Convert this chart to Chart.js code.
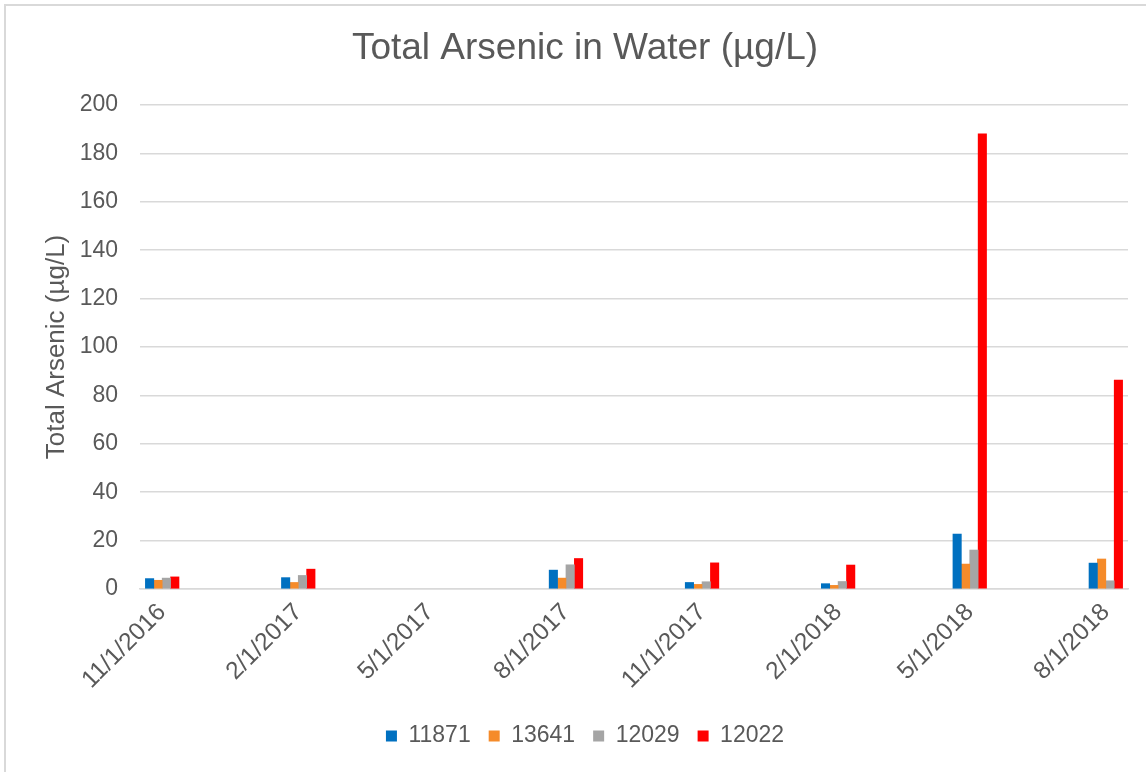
<!DOCTYPE html>
<html>
<head>
<meta charset="utf-8">
<script src="https://cdn.jsdelivr.net/npm/chart.js@4.4.1/dist/chart.umd.min.js"></script>
<style>
  body { margin: 0; background: #fff; }
  #wrap { position: relative; width: 1146px; height: 772px; overflow: hidden; }
  #frame {
    position: absolute; left: 4px; top: 4px; right: -10px; bottom: -10px;
    border-left: 2px solid #d9d9d9; border-top: 2px solid #d9d9d9;
    pointer-events: none;
  }
</style>
</head>
<body>
<div id="wrap">
  <canvas id="arsenicChart" width="1146" height="772"></canvas>
  <div id="frame"></div>
</div>
<script>
// sample dates (x axis) and total arsenic per site, ug/L
const sampleDates = ["11/1/2016", "2/1/2017", "5/1/2017", "8/1/2017", "11/1/2017", "2/1/2018", "5/1/2018", "8/1/2018"];
const site11871 = [4.3, 4.7, null, 7.8, 2.7, 2.2, 22.7, 10.7];
const site13641 = [3.6, 2.7, null, 4.5, 1.9, 1.5, 10.3, 12.4];
const site12029 = [4.5, 5.6, null, 10.0, 3.0, 3.1, 16.1, 3.4];
const site12022 = [5.0, 8.2, null, 12.6, 10.8, 9.9, 188.1, 86.3];
const yTicks = [0, 20, 40, 60, 80, 100, 120, 140, 160, 180, 200];

const FONT = "'Liberation Sans', Arial, sans-serif";
const TEXT = "#595959";
const GRID = "#d9d9d9";

// date axis like excel: days since epoch
const toDay = (s) => {
  const [m, d, y] = s.split("/").map(Number);
  return Date.UTC(y, m - 1, d) / 86400000;
};
const dayValues = sampleDates.map(toDay);

const makeSeries = (label, values, color) => ({
  label: label,
  data: values.map((v, i) => ({ x: dayValues[i], y: v })),
  backgroundColor: color,
  borderWidth: 0,
  barThickness: 8.4,
});

const ctx = document.getElementById("arsenicChart").getContext("2d");
new Chart(ctx, {
  type: "bar",
  data: {
    datasets: [
      makeSeries("11871", site11871, "#0070c0"),
      makeSeries("13641", site13641, "#f58b2a"),
      makeSeries("12029", site12029, "#a5a5a5"),
      makeSeries("12022", site12022, "#ff0000"),
    ],
  },
  options: {
    responsive: false,
    animation: false,
    devicePixelRatio: 1,
    layout: { padding: { left: 42, right: 18, top: 0, bottom: 14.5 } },
    plugins: {
      title: {
        display: true,
        text: "Total Arsenic in Water (µg/L)",
        color: TEXT,
        font: { family: FONT, size: 37, weight: "normal" },
        padding: { top: 27, bottom: 33.6 },
      },
      legend: {
        position: "bottom",
        labels: {
          color: TEXT,
          font: { family: FONT, size: 23 },
          boxWidth: 11,
          boxHeight: 11,
          padding: 18,
        },
      },
      tooltip: { enabled: false },
    },
    scales: {
      x: {
        type: "linear",
        offset: false,
        min: dayValues[0] - 15,
        max: dayValues[dayValues.length - 1] + 15,
        afterBuildTicks: (axis) => {
          axis.ticks = dayValues.map((v) => ({ value: v }));
        },
        afterFit: (axis) => {
          axis.height = 117.5;
        },
        ticks: {
          autoSkip: false,
          minRotation: 45,
          maxRotation: 45,
          padding: 9,
          color: TEXT,
          font: { family: FONT, size: 24.5 },
          callback: (value) => sampleDates[dayValues.indexOf(value)],
        },
        grid: { display: false, drawTicks: false },
        border: { display: true, color: GRID, width: 1.5 },
      },
      y: {
        min: 0,
        max: 200,
        afterBuildTicks: (axis) => {
          axis.ticks = yTicks.map((v) => ({ value: v }));
        },
        afterFit: (axis) => {
          axis.width = 98;
        },
        ticks: {
          padding: 22,
          color: TEXT,
          font: { family: FONT, size: 23 },
        },
        grid: { color: GRID, lineWidth: 1.5, drawTicks: false },
        border: { display: false },
        title: {
          display: true,
          text: "Total Arsenic (µg/L)",
          color: TEXT,
          font: { family: FONT, size: 26 },
          padding: { top: -0.6, bottom: 0 },
        },
      },
    },
  },
});
</script>
</body>
</html>
